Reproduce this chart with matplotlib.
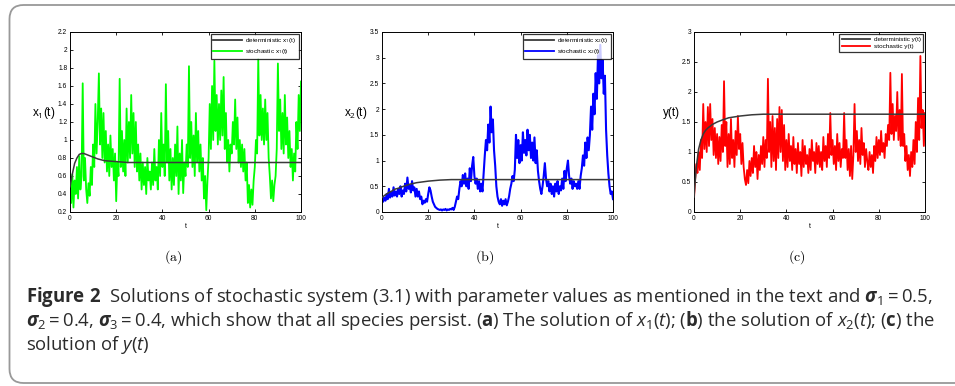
import matplotlib
matplotlib.use("Agg")
import matplotlib.pyplot as plt
import numpy as np
from matplotlib.patches import PathPatch
from matplotlib.path import Path

# ──── DATA ───────────────────────────────────────────────────────────────────

# stochastic paths, read every 0.5 time units from t = 0 to t = 100
t_stoch = np.arange(0, 100.5, 0.5)

x1_stoch = [
    0.50, 0.30, 0.62, 0.25, 0.55, 0.40, 0.70, 0.35, 0.82, 0.45,
    0.60, 1.63, 0.55, 0.80, 0.45, 0.30, 0.52, 0.38, 0.70, 0.50,
    0.95, 0.70, 1.40, 0.85, 1.20, 1.74, 0.95, 1.35, 0.80, 1.30,
    0.75, 1.10, 0.65, 0.95, 0.60, 1.05, 0.70, 0.90, 0.55, 0.85,
    0.32, 0.75, 0.60, 1.68, 0.70, 1.10, 0.65, 1.00, 0.60, 1.35,
    0.75, 1.20, 0.80, 1.50, 0.85, 1.30, 0.70, 1.20, 0.65, 0.95,
    0.55, 0.85, 0.45, 0.75, 0.50, 0.70, 0.40, 0.80, 0.55, 0.65,
    0.45, 0.75, 0.50, 0.90, 0.55, 0.70, 0.45, 1.00, 0.60, 1.30,
    0.70, 0.95, 0.60, 1.62, 0.75, 1.10, 0.55, 0.90, 0.45, 0.80,
    0.50, 0.95, 0.60, 1.15, 0.40, 0.85, 0.55, 1.00, 0.41, 0.75,
    0.60, 0.95, 0.70, 1.82, 0.80, 1.20, 0.70, 1.05, 0.60, 1.30,
    0.75, 1.10, 0.65, 0.95, 0.55, 0.80, 0.35, 0.60, 0.22, 0.55,
    0.80, 1.40, 0.90, 1.60, 1.00, 1.88, 1.10, 1.50, 0.95, 1.40,
    1.00, 1.55, 1.05, 1.70, 0.90, 1.30, 0.75, 1.00, 0.65, 0.95,
    0.85, 1.20, 0.95, 1.45, 0.90, 1.25, 0.75, 1.00, 0.70, 0.95,
    0.65, 0.90, 0.55, 0.75, 0.30, 0.50, 0.25, 0.45, 0.28, 0.55,
    0.70, 1.00, 0.85, 1.90, 1.05, 1.50, 1.00, 1.35, 0.95, 1.45,
    1.00, 1.30, 0.80, 0.60, 0.35, 0.55, 0.32, 0.50, 0.60, 0.90,
    1.85, 1.10, 1.45, 0.90, 1.30, 0.85, 1.50, 0.95, 1.25, 0.80,
    1.10, 0.70, 0.90, 0.55, 0.85, 0.65, 1.20, 0.90, 1.50, 1.10,
    1.65,
]

x2_stoch = [
    0.30, 0.20, 0.28, 0.22, 0.35, 0.25, 0.45, 0.28, 0.38, 0.30,
    0.48, 0.32, 0.40, 0.30, 0.45, 0.35, 0.50, 0.30, 0.42, 0.35,
    0.55, 0.40, 0.67, 0.45, 0.52, 0.38, 0.60, 0.42, 0.48, 0.30,
    0.45, 0.30, 0.40, 0.25, 0.30, 0.15, 0.22, 0.18, 0.25, 0.20,
    0.35, 0.48, 0.42, 0.30, 0.20, 0.15, 0.10, 0.08, 0.06, 0.05,
    0.04, 0.05, 0.03, 0.05, 0.04, 0.06, 0.03, 0.05, 0.04, 0.06,
    0.05, 0.08, 0.04, 0.10, 0.20, 0.30, 0.25, 0.45, 0.60, 0.50,
    0.72, 0.55, 0.75, 0.50, 0.65, 0.45, 0.85, 0.60, 0.90, 1.07,
    0.70, 0.55, 0.65, 0.45, 0.60, 0.40, 0.55, 0.40, 0.75, 1.10,
    1.40, 1.20, 1.70, 1.35, 2.05, 1.55, 1.80, 1.20, 0.90, 0.50,
    0.30, 0.20, 0.15, 0.25, 0.12, 0.22, 0.15, 0.25, 0.13, 0.20,
    0.30, 0.45, 0.55, 0.70, 0.60, 0.82, 1.50, 1.05, 1.40, 0.95,
    1.30, 1.00, 1.55, 1.15, 1.40, 1.10, 1.60, 1.20, 1.50, 1.05,
    1.35, 1.00, 1.45, 0.95, 1.20, 0.80, 0.60, 0.45, 0.35, 0.50,
    0.70, 0.95, 0.65, 0.50, 0.60, 0.40, 0.55, 0.35, 0.50, 0.30,
    0.55, 0.40, 0.60, 0.35, 0.50, 0.42, 0.65, 0.45, 0.80, 0.60,
    0.85, 1.00, 0.70, 0.55, 0.65, 0.45, 0.60, 0.50, 0.55, 0.45,
    0.60, 0.45, 0.70, 0.85, 1.10, 0.90, 1.35, 1.05, 1.45, 1.20,
    1.50, 2.05, 1.60, 2.30, 1.90, 2.70, 2.20, 3.05, 2.50, 3.25,
    2.60, 2.95, 2.30, 2.65, 1.60, 1.10, 0.75, 0.50, 0.35, 0.40,
    0.25,
]

y_stoch = [
    0.22, 0.55, 0.80, 0.65, 1.00, 0.70, 1.20, 0.90, 1.80, 1.05,
    1.50, 1.00, 1.75, 1.10, 1.80, 1.20, 1.55, 0.95, 1.40, 0.90,
    1.30, 0.80, 1.25, 0.85, 1.45, 1.00, 2.18, 1.10, 1.50, 0.75,
    1.30, 0.80, 1.55, 0.90, 1.20, 0.75, 1.35, 0.95, 1.60, 1.05,
    1.30, 0.80, 1.15, 0.75, 0.55, 0.45, 0.70, 0.48, 0.85, 0.60,
    0.90, 0.65, 1.10, 0.75, 1.00, 0.55, 0.95, 0.70, 1.10, 0.80,
    1.25, 0.75, 1.20, 0.90, 2.22, 1.00, 1.50, 0.75, 1.60, 0.85,
    1.40, 0.70, 1.55, 0.90, 1.75, 1.00, 1.70, 0.85, 1.45, 0.70,
    1.20, 0.75, 1.30, 0.85, 1.10, 0.70, 1.25, 0.80, 1.05, 0.65,
    1.15, 0.80, 1.00, 0.60, 1.20, 0.75, 1.10, 0.80, 0.95, 0.65,
    1.05, 0.70, 1.20, 0.85, 1.00, 0.65, 1.15, 0.80, 1.10, 0.75,
    1.00, 0.70, 1.25, 0.85, 1.10, 0.75, 1.30, 0.90, 1.65, 0.95,
    1.20, 0.80, 1.10, 0.70, 1.30, 0.85, 1.15, 0.75, 1.05, 0.90,
    1.65, 0.90, 1.20, 0.70, 1.05, 0.60, 1.10, 0.55, 0.95, 1.80,
    1.00, 1.35, 0.85, 1.20, 0.80, 1.40, 0.95, 1.15, 0.75, 1.05,
    0.85, 0.70, 1.00, 0.75, 0.95, 0.65, 1.10, 0.85, 1.25, 0.90,
    1.20, 0.95, 1.35, 1.00, 1.15, 0.90, 1.30, 1.10, 1.45, 1.20,
    2.32, 1.30, 1.80, 1.20, 1.60, 1.35, 2.00, 1.20, 1.70, 1.10,
    2.30, 1.10, 1.30, 0.85, 1.10, 0.70, 0.95, 0.60, 1.00, 0.75,
    1.20, 0.80, 1.50, 1.00, 1.90, 1.20, 2.60, 1.40, 1.70, 1.10,
    1.65,
]

# deterministic solutions
t_det = [0, 1, 2, 3, 4, 5, 6, 7, 8, 10, 12, 15, 20, 25, 30, 40, 60, 80, 100]
x1_det = [0.48, 0.62, 0.74, 0.80, 0.84, 0.85, 0.85, 0.84, 0.83, 0.81, 0.79,
          0.77, 0.76, 0.75, 0.75, 0.75, 0.75, 0.75, 0.75]
x2_det = [0.28, 0.32, 0.35, 0.38, 0.40, 0.43, 0.45, 0.46, 0.48, 0.51, 0.54,
          0.57, 0.60, 0.62, 0.63, 0.63, 0.63, 0.63, 0.63]
y_det = [0.25, 0.75, 1.05, 1.20, 1.30, 1.36, 1.40, 1.43, 1.46, 1.50, 1.53,
         1.57, 1.60, 1.62, 1.63, 1.63, 1.63, 1.63, 1.63]

x_ticks = [0, 20, 40, 60, 80, 100]
x1_ticks = [0.2, 0.4, 0.6, 0.8, 1.0, 1.2, 1.4, 1.6, 1.8, 2.0, 2.2]
x2_ticks = [0, 0.5, 1, 1.5, 2, 2.5, 3, 3.5]
y_ticks = [0, 0.5, 1, 1.5, 2, 2.5, 3]

panels = [
    ("x$_1$(t)", x1_stoch, x1_det, "#00ff00", x1_ticks, "(a)", 1.3),
    ("x$_2$(t)", x2_stoch, x2_det, "#0000ff", x2_ticks, "(b)", 1.5),
    ("y(t)", y_stoch, y_det, "#ff0000", y_ticks, "(c)", 1.3),
]

# ──── PLOT ───────────────────────────────────────────────────────────────────

plt.rcParams.update(
    {
        "font.family": "Liberation Sans",
        "mathtext.fontset": "custom",
        "mathtext.rm": "Open Sans",
        "mathtext.it": "Open Sans:italic",
        "mathtext.bf": "Open Sans:bold",
        "mathtext.bfit": "Open Sans:italic:bold",
    }
)

fig = plt.figure(figsize=(9.55, 3.86), dpi=100)

lefts = [70, 382, 694]
label_x = [173, 485, 797]
for (name, stoch, det, col, yt, tag, lw), left, lx in zip(panels, lefts, label_x):
    ax = fig.add_axes([left / 955, 1 - 212 / 386, 231 / 955, 180 / 386])
    ax.plot(t_stoch, stoch, color=col, lw=lw, label="stochastic " + name, zorder=2)
    ax.plot(t_det, det, color="#3a3a3a", lw=1.1, label="deterministic " + name, zorder=3)
    ax.set_xlim(0, 100)
    ax.set_ylim(yt[0], yt[-1])
    ax.set_xticks(x_ticks)
    ax.set_yticks(yt)
    ax.set_yticklabels(["%g" % v for v in yt])
    ax.tick_params(direction="in", length=2.5, width=0.6, labelsize=4.8,
                   top=True, right=True, pad=2)
    for sp in ax.spines.values():
        sp.set_linewidth(0.7)
    ax.set_xlabel("t", fontsize=5, labelpad=1)
    ax.set_ylabel(name, fontsize=8.5, rotation=0, ha="right", va="center")
    ax.yaxis.set_label_coords(-0.062, 0.55)
    h, l = ax.get_legend_handles_labels()
    leg = ax.legend(h[::-1], l[::-1], loc="upper right", fontsize=4.6,
                    frameon=True, fancybox=False, handlelength=4.5,
                    borderaxespad=0.3, labelspacing=0.3, handletextpad=0.5,
                    borderpad=0.4)
    leg.get_frame().set_edgecolor("black")
    leg.get_frame().set_linewidth(0.9)
    for line in leg.get_lines():
        line.set_linewidth(1.3)
    fig.text(lx / 955, 1 - 257 / 386, r"$\mathrm{" + tag + "}$", ha="center",
             va="center", fontsize=10, math_fontfamily="cm")

# caption
cap_kw = dict(fontsize=13.35, family="Open Sans", color="#2b2b2b", ha="left",
              va="center")
fig.text(26 / 955, 1 - 297 / 386,
         r"$\mathbf{Figure\ 2}$  Solutions of stochastic system (3.1) with "
         r"parameter values as mentioned in the text and "
         r"$\mathbfit{\sigma}_1 = 0.5$,", **cap_kw)
fig.text(26 / 955, 1 - 321 / 386,
         r"$\mathbfit{\sigma}_2 = 0.4$, $\mathbfit{\sigma}_3 = 0.4$, which "
         r"show that all species persist. ($\mathbf{a}$) The solution of "
         r"$x_1(t)$; ($\mathbf{b}$) the solution of $x_2(t)$; ($\mathbf{c}$) the",
         **cap_kw)
fig.text(26 / 955, 1 - 345 / 386, r"solution of $y(t)$", **cap_kw)

# rounded frame around the figure, open to the right (pixel coordinates)
fl, ft, fb, r = 9.5, 381.0, 3.0, 14.0
frame_path = Path(
    [(1000, ft), (fl + r, ft), (fl, ft), (fl, ft - r), (fl, fb + r),
     (fl, fb), (fl + r, fb), (1000, fb)],
    [Path.MOVETO, Path.LINETO, Path.CURVE3, Path.CURVE3, Path.LINETO,
     Path.CURVE3, Path.CURVE3, Path.LINETO],
)
fig.patches.append(PathPatch(frame_path, transform=None, facecolor="none",
                             edgecolor="#999999", lw=1.3))

fig.savefig("out.png", dpi=100)
